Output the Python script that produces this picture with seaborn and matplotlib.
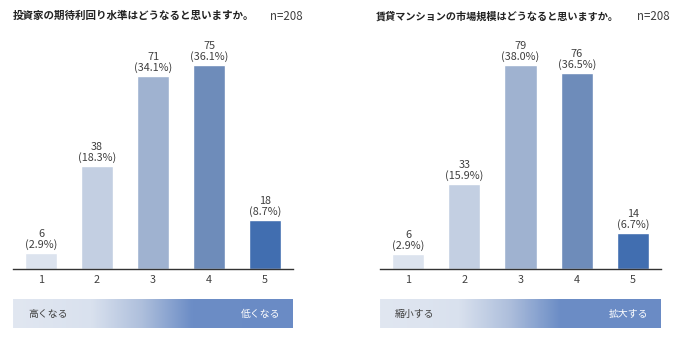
import numpy as np
import pandas as pd
import matplotlib
matplotlib.use("Agg")
import matplotlib.pyplot as plt
from matplotlib.colors import LinearSegmentedColormap
import seaborn as sns

# ---- data ----
categories = ["1", "2", "3", "4", "5"]
left_counts = [6, 38, 71, 75, 18]
left_pcts = ["2.9%", "18.3%", "34.1%", "36.1%", "8.7%"]
right_counts = [6, 33, 79, 76, 14]
right_pcts = ["2.9%", "15.9%", "38.0%", "36.5%", "6.7%"]
left_title = "投資家の期待利回り水準はどうなると思いますか。"
right_title = "賃貸マンションの市場規模はどうなると思いますか。"
n_label = "n=208"
left_scale = ["高くなる", "低くなる"]
right_scale = ["縮小する", "拡大する"]

bar_colors = ["#dce3ee", "#c3cfe2", "#9fb2d0", "#6e8cba", "#416eb0"]

sns.set_theme(style="white")
plt.rcParams['font.family'] = ['Noto Sans CJK JP', 'DejaVu Sans']

W, H = 679, 340
fig = plt.figure(figsize=(W / 100, H / 100), dpi=100)


def fx(px):
    return px / W


def fy(py):
    return 1 - py / H


def bar_panel(x0, x1, counts, pcts):
    ax = fig.add_axes([fx(x0), fy(269), fx(x1 - x0), (269 - 40) / H])
    df = pd.DataFrame({"cat": categories, "count": counts})
    sns.barplot(data=df, x="cat", y="count", hue="cat", palette=bar_colors,
                legend=False, width=0.57, ax=ax, saturation=1)
    mx = max(counts)
    ax.set_ylim(0, mx * 229 / 204)
    ax.set_xlim(-0.5, 4.5)
    for i, (c, p) in enumerate(zip(counts, pcts)):
        ax.annotate(f"{c}\n({p})", (i, c), xytext=(0, 2), textcoords="offset points",
                    ha="center", va="bottom", fontsize=7.8, color="#404040",
                    linespacing=1.0)
    for s in ["top", "right", "left"]:
        ax.spines[s].set_visible(False)
    ax.spines["bottom"].set_color("#333333")
    ax.spines["bottom"].set_linewidth(1)
    ax.set_yticks([])
    ax.set_xlabel("")
    ax.set_ylabel("")
    ax.tick_params(axis="x", length=0, labelsize=7.8, labelcolor="#404040", pad=4)
    return ax


bar_panel(13, 293, left_counts, left_pcts)
bar_panel(380, 661, right_counts, right_pcts)

cmap = LinearSegmentedColormap.from_list(
    "grad", [(0.0, "#e1e7f1"), (0.28, "#d9e1ee"), (0.46, "#aebfdc"),
             (0.64, "#6c8dc6"), (1.0, "#6a8bc5")])


def grad_panel(x0, x1, labels):
    ax = fig.add_axes([fx(x0), fy(328), fx(x1 - x0), 29 / H])
    ax.imshow(np.linspace(0, 1, 256)[None, :], aspect="auto", cmap=cmap,
              extent=[0, 1, 0, 1])
    ax.set_xlim(0, 1)
    ax.set_ylim(0, 1)
    ax.axis("off")
    w = x1 - x0
    ax.text(15 / w, 0.5, labels[0], ha="left", va="center", fontsize=7.1, color="#404040")
    ax.text(1 - 13 / w, 0.5, labels[1], ha="right", va="center", fontsize=7.1, color="white")


grad_panel(13, 293, left_scale)
grad_panel(380, 661, right_scale)

fig.text(fx(13), fy(16), left_title, ha="left", va="center", fontsize=7.6,
         fontweight="bold", color="#222222")
fig.text(fx(270), fy(16), n_label, ha="left", va="center", fontsize=8.3, color="#404040")
fig.text(fx(376), fy(16), right_title, ha="left", va="center", fontsize=7.3,
         fontweight="bold", color="#222222")
fig.text(fx(637), fy(16), n_label, ha="left", va="center", fontsize=8.3, color="#404040")

fig.savefig("out.png", dpi=100)
